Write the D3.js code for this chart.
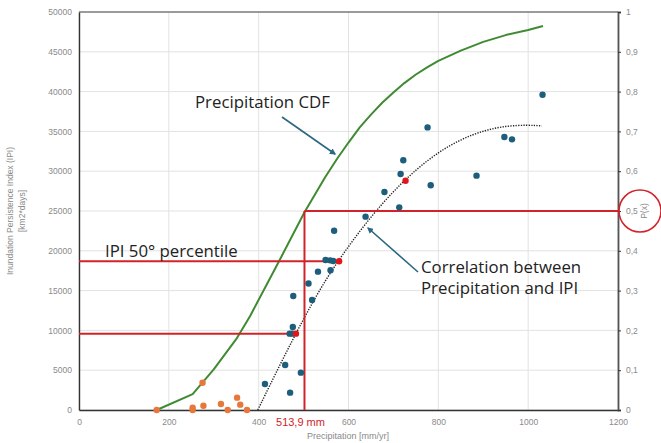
<!DOCTYPE HTML>
<html lang="en">
<head>
	<meta charset="utf-8">
	<script src="https://d3js.org/d3.v7.min.js" charset="utf-8"></script>
	<style>
		body { margin: 0; background: #fff; }
		svg text { font-family: "Liberation Sans", Arial, sans-serif; }
		.note { font-family: "Open Sans", sans-serif; font-size: 16.8px; fill: #222; }
	</style>
</head>
<body>
	<script>
		// precipitation [mm/yr] and IPI [km2*days] of the wet years
		var blueX = [414, 459, 470, 494, 477, 476, 469, 475, 511, 519, 532, 549, 559, 560, 566, 568, 638, 680, 713, 716, 722, 776, 783, 885, 947, 964, 1032];
		var blueY = [3270, 5650, 2180, 4690, 14320, 10430, 9590, 9590, 15900, 13820, 17380, 18840, 18800, 17550, 18720, 22520, 24290, 27390, 25460, 29650, 31370, 35500, 28230, 29440, 34300, 34000, 39600];
		// dry years
		var orangeX = [173, 253, 253, 275, 277, 316, 331, 352, 359, 374];
		var orangeY = [0, 290, 0, 3430, 540, 750, 0, 1550, 670, 0];
		// highlighted points on the trend line
		var redX = [483, 579, 727];
		var redY = [9590, 18680, 28800];
		// precipitation CDF
		var cdfX = [173, 253, 300, 350, 381, 450, 502, 548, 575, 600, 625, 650, 675, 700, 725, 750, 775, 800, 850, 900, 950, 1000, 1033];
		var cdfP = [0, 0.04, 0.102, 0.178, 0.236, 0.384, 0.497, 0.585, 0.632, 0.672, 0.71, 0.742, 0.772, 0.798, 0.822, 0.843, 0.861, 0.877, 0.903, 0.925, 0.942, 0.955, 0.965];
		// polynomial trend
		var trendX = [398, 450, 500, 550, 600, 650, 700, 750, 800, 850, 900, 950, 1000, 1030];
		var trendY = [0, 6000, 11500, 16500, 20600, 24300, 27500, 30200, 32400, 34000, 35100, 35700, 35800, 35700];

		var xTicks = [0, 200, 400, 600, 800, 1000, 1200];
		var yTicks = [0, 5000, 10000, 15000, 20000, 25000, 30000, 35000, 40000, 45000, 50000];
		var pTicks = ["0", "0,1", "0,2", "0,3", "0,4", "0,5", "0,6", "0,7", "0,8", "0,9", "1"];

		var medianX = 502;          // where the 50% line is drawn
		var medianLabel = "513,9 mm";
		var ipiLow = 9590;
		var ipiMed = 18700;

		var w = 661;
		var h = 443;
		var padLeft = 79, padRight = 618, padTop = 12, padBottom = 410;

		var svg = d3.select("body")
			.append("svg")
			.attr("width", w)
			.attr("height", h);

		var xScale = d3.scaleLinear().domain([0, 1200]).range([padLeft, padRight]);
		var yScale = d3.scaleLinear().domain([0, 50000]).range([padBottom, padTop]);
		var pScale = d3.scaleLinear().domain([0, 1]).range([padBottom, padTop]);

		// grid
		svg.append("g")
			.selectAll("line")
			.data(yTicks)
			.enter()
			.append("line")
			.attr("x1", padLeft).attr("x2", padRight)
			.attr("y1", function(d) { return yScale(d); })
			.attr("y2", function(d) { return yScale(d); })
			.attr("stroke", "#e2e2e2");
		svg.append("g")
			.selectAll("line")
			.data(xTicks)
			.enter()
			.append("line")
			.attr("y1", padTop).attr("y2", padBottom)
			.attr("x1", function(d) { return xScale(d); })
			.attr("x2", function(d) { return xScale(d); })
			.attr("stroke", "#e2e2e2");

		// axes
		var yAxis = svg.append("g")
			.attr("transform", "translate(" + padLeft + ",0)")
			.call(d3.axisLeft(yScale).tickValues(yTicks).tickSize(0).tickPadding(7).tickFormat(d3.format("d")));
		var xAxis = svg.append("g")
			.attr("transform", "translate(0," + padBottom + ")")
			.call(d3.axisBottom(xScale).tickValues(xTicks).tickSize(0).tickPadding(9).tickFormat(d3.format("d")));
		var pAxis = svg.append("g")
			.attr("transform", "translate(" + padRight + ",0)")
			.call(d3.axisRight(pScale).ticks(10).tickSize(3).tickPadding(5).tickFormat(function(d, i) { return pTicks[i]; }));

		[yAxis, xAxis, pAxis].forEach(function(a) {
			a.selectAll("text").attr("fill", "#8a8a8a").attr("font-size", "8.5px");
			a.select(".domain").attr("stroke", "#333").attr("stroke-width", 1.4);
		});
		pAxis.selectAll(".tick line").attr("stroke", "#333");
		pAxis.select(".domain").attr("stroke", "#555").attr("stroke-width", 1.8);

		svg.append("line")
			.attr("x1", padLeft).attr("x2", padRight)
			.attr("y1", padTop).attr("y2", padTop)
			.attr("stroke", "#444").attr("stroke-width", 1);

		// axis titles
		svg.append("text")
			.attr("transform", "translate(13," + ((padTop + padBottom) / 2) + ") rotate(-90)")
			.attr("text-anchor", "middle")
			.attr("font-size", "8.5px")
			.attr("fill", "#8a8a8a")
			.text("Inundation Persistence Index (IPI)");
		svg.append("text")
			.attr("transform", "translate(25," + ((padTop + padBottom) / 2) + ") rotate(-90)")
			.attr("text-anchor", "middle")
			.attr("font-size", "8.5px")
			.attr("fill", "#8a8a8a")
			.text("[km2*days]");
		svg.append("text")
			.attr("x", 348).attr("y", 439)
			.attr("text-anchor", "middle")
			.attr("font-size", "9px")
			.attr("fill", "#8a8a8a")
			.text("Precipitation [mm/yr]");
		svg.append("text")
			.attr("transform", "translate(647," + pScale(0.5) + ") rotate(-90)")
			.attr("text-anchor", "middle")
			.attr("font-size", "8.5px")
			.attr("fill", "#8a8a8a")
			.text("P(x)");

		// CDF line
		svg.append("path")
			.datum(d3.range(cdfX.length))
			.attr("fill", "none")
			.attr("stroke", "#3f8a32")
			.attr("stroke-width", 2)
			.attr("stroke-linejoin", "round")
			.attr("d", d3.line()
				.x(function(i) { return xScale(cdfX[i]); })
				.y(function(i) { return pScale(cdfP[i]); }));

		// trend line
		svg.append("path")
			.datum(d3.range(trendX.length))
			.attr("fill", "none")
			.attr("stroke", "#222")
			.attr("stroke-width", 1.4)
			.attr("stroke-dasharray", "1.3,1.3")
			.attr("d", d3.line()
				.x(function(i) { return xScale(trendX[i]); })
				.y(function(i) { return yScale(trendY[i]); })
				.curve(d3.curveBasis));

		// red percentile lines
		var red = "#d2232a";
		function redLine(x1, y1, x2, y2) {
			svg.append("line")
				.attr("x1", x1).attr("y1", y1).attr("x2", x2).attr("y2", y2)
				.attr("stroke", red).attr("stroke-width", 2);
		}
		redLine(padLeft, yScale(ipiMed), xScale(redX[1]), yScale(ipiMed));
		redLine(padLeft, yScale(ipiLow), xScale(redX[0]), yScale(ipiLow));
		redLine(xScale(medianX), padBottom, xScale(medianX), pScale(0.5));
		redLine(xScale(medianX), pScale(0.5), padRight, pScale(0.5));

		// points
		svg.append("g")
			.selectAll("circle")
			.data(d3.range(orangeX.length))
			.enter()
			.append("circle")
			.attr("cx", function(i) { return xScale(orangeX[i]); })
			.attr("cy", function(i) { return yScale(orangeY[i]); })
			.attr("r", 3.2)
			.attr("fill", "#e8773a");
		svg.append("g")
			.selectAll("circle")
			.data(d3.range(blueX.length))
			.enter()
			.append("circle")
			.attr("cx", function(i) { return xScale(blueX[i]); })
			.attr("cy", function(i) { return yScale(blueY[i]); })
			.attr("r", 3.2)
			.attr("fill", "#1d5e7c");
		svg.append("g")
			.selectAll("circle")
			.data(d3.range(redX.length))
			.enter()
			.append("circle")
			.attr("cx", function(i) { return xScale(redX[i]); })
			.attr("cy", function(i) { return yScale(redY[i]); })
			.attr("r", 3.2)
			.attr("fill", "#e0161b");

		// median label
		svg.append("text")
			.attr("x", xScale(medianX) - 4).attr("y", 426)
			.attr("text-anchor", "middle")
			.attr("font-size", "11px")
			.attr("fill", red)
			.text(medianLabel);

		// circle round P(x)
		svg.append("circle")
			.attr("cx", 640).attr("cy", pScale(0.5))
			.attr("r", 21)
			.attr("fill", "none")
			.attr("stroke", red)
			.attr("stroke-width", 1.6);

		// annotations
		var defs = svg.append("defs");
		defs.append("marker")
			.attr("id", "arr")
			.attr("viewBox", "0 0 10 10")
			.attr("refX", 8).attr("refY", 5)
			.attr("markerWidth", 4).attr("markerHeight", 4)
			.attr("orient", "auto")
			.append("path")
			.attr("d", "M0,0L10,5L0,10z")
			.attr("fill", "#2b6882");

		svg.append("line")
			.attr("x1", 282).attr("y1", 117).attr("x2", 335).attr("y2", 154)
			.attr("stroke", "#2b6882").attr("stroke-width", 1.6)
			.attr("marker-end", "url(#arr)");
		svg.append("line")
			.attr("x1", 418).attr("y1", 272).attr("x2", 368).attr("y2", 228)
			.attr("stroke", "#2b6882").attr("stroke-width", 1.6)
			.attr("marker-end", "url(#arr)");

		svg.append("text").attr("class", "note")
			.attr("x", 195).attr("y", 108)
			.text("Precipitation CDF");
		svg.append("text").attr("class", "note")
			.attr("x", 105).attr("y", 257)
			.text("IPI 50° percentile");
		svg.append("text").attr("class", "note")
			.attr("x", 421).attr("y", 273)
			.text("Correlation between");
		svg.append("text").attr("class", "note")
			.attr("x", 421).attr("y", 294)
			.text("Precipitation and IPI");
	</script>
</body>
</html>
